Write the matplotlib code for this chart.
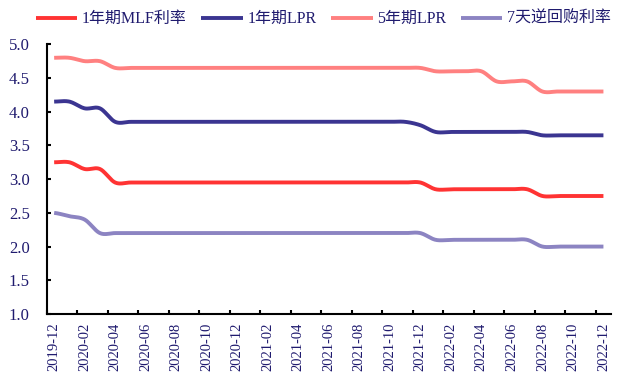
import numpy as np
import pandas as pd
import matplotlib
matplotlib.use("Agg")
import matplotlib.pyplot as plt

plt.rcParams["font.family"] = ["Liberation Serif", "Noto Sans CJK SC"]

months = [p.strftime("%Y-%m") for p in pd.period_range("2019-12", "2022-12", freq="M")]

mlf_1y = [3.25, 3.25, 3.15, 3.15, 2.95, 2.95, 2.95, 2.95, 2.95, 2.95, 2.95, 2.95,
          2.95, 2.95, 2.95, 2.95, 2.95, 2.95, 2.95, 2.95, 2.95, 2.95, 2.95, 2.95,
          2.95, 2.85, 2.85, 2.85, 2.85, 2.85, 2.85, 2.85, 2.75, 2.75, 2.75, 2.75,
          2.75]
lpr_1y = [4.15, 4.15, 4.05, 4.05, 3.85, 3.85, 3.85, 3.85, 3.85, 3.85, 3.85, 3.85,
          3.85, 3.85, 3.85, 3.85, 3.85, 3.85, 3.85, 3.85, 3.85, 3.85, 3.85, 3.85,
          3.80, 3.70, 3.70, 3.70, 3.70, 3.70, 3.70, 3.70, 3.65, 3.65, 3.65, 3.65,
          3.65]
lpr_5y = [4.80, 4.80, 4.75, 4.75, 4.65, 4.65, 4.65, 4.65, 4.65, 4.65, 4.65, 4.65,
          4.65, 4.65, 4.65, 4.65, 4.65, 4.65, 4.65, 4.65, 4.65, 4.65, 4.65, 4.65,
          4.65, 4.60, 4.60, 4.60, 4.60, 4.45, 4.45, 4.45, 4.30, 4.30, 4.30, 4.30,
          4.30]
repo_7d = [2.50, 2.45, 2.40, 2.20, 2.20, 2.20, 2.20, 2.20, 2.20, 2.20, 2.20, 2.20,
           2.20, 2.20, 2.20, 2.20, 2.20, 2.20, 2.20, 2.20, 2.20, 2.20, 2.20, 2.20,
           2.20, 2.10, 2.10, 2.10, 2.10, 2.10, 2.10, 2.10, 2.00, 2.00, 2.00, 2.00,
           2.00]

series = [
    ("1年期MLF利率", mlf_1y, "#ff3333"),
    ("1年期LPR", lpr_1y, "#3b3591"),
    ("5年期LPR", lpr_5y, "#ff8080"),
    ("7天逆回购利率", repo_7d, "#8c84c2"),
]
text_color = "#1f1a6e"


def smooth(y, n=20):
    # bezier smoothing through every point, like a spreadsheet "smoothed line"
    y = np.asarray(y, dtype=float)
    p = np.concatenate([[y[0]], y, [y[-1]]])
    t = np.linspace(0, 1, n, endpoint=False)
    xs, ys = [], []
    for i in range(len(y) - 1):
        p0, p1, p2, p3 = p[i], p[i + 1], p[i + 2], p[i + 3]
        c1 = p1 + (p2 - p0) / 6
        c2 = p2 - (p3 - p1) / 6
        ys.append((1 - t) ** 3 * p1 + 3 * (1 - t) ** 2 * t * c1
                  + 3 * (1 - t) * t ** 2 * c2 + t ** 3 * p2)
        xs.append(i + t)
    xs.append([len(y) - 1])
    ys.append([y[-1]])
    return np.concatenate(xs), np.concatenate(ys)


fig = plt.figure(figsize=(6.22, 3.81), dpi=100)
ax = fig.add_axes([0.0748, 0.1759, 0.9076, 0.7078])

for name, vals, color in series:
    xs, ys = smooth(vals)
    ax.plot(xs, ys, color=color, lw=2.8, label=name, solid_capstyle="butt")

ax.set_xlim(-0.5, len(months) - 0.5)
ax.set_ylim(1.0, 5.0)
ax.set_yticks(np.arange(1.0, 5.01, 0.5))
ax.set_yticklabels([f"{v:.1f}" for v in np.arange(1.0, 5.01, 0.5)])

ax.set_xticks(range(0, len(months), 2))
ax.set_xticklabels(months[::2], rotation=90)
ax.set_xticks(np.arange(-0.5, len(months) - 1, 2), minor=True)

ax.tick_params(axis="x", which="major", length=0, pad=6, labelsize=10.5,
               labelcolor=text_color)
ax.tick_params(axis="x", which="minor", direction="in", length=3, width=1.5)
ax.tick_params(axis="y", direction="in", length=3, width=1.5, pad=12,
               labelsize=12, labelcolor=text_color)

for side in ["top", "right"]:
    ax.spines[side].set_visible(False)
for side in ["left", "bottom"]:
    ax.spines[side].set_linewidth(1.5)

leg = fig.legend(loc="upper center", bbox_to_anchor=(0.52, 1.0), ncol=4,
                 frameon=False, fontsize=11.5, handlelength=2.6,
                 handletextpad=0.3, columnspacing=0.9, borderaxespad=0.3)
for txt in leg.get_texts():
    txt.set_color(text_color)

fig.savefig("out.png", dpi=100)
